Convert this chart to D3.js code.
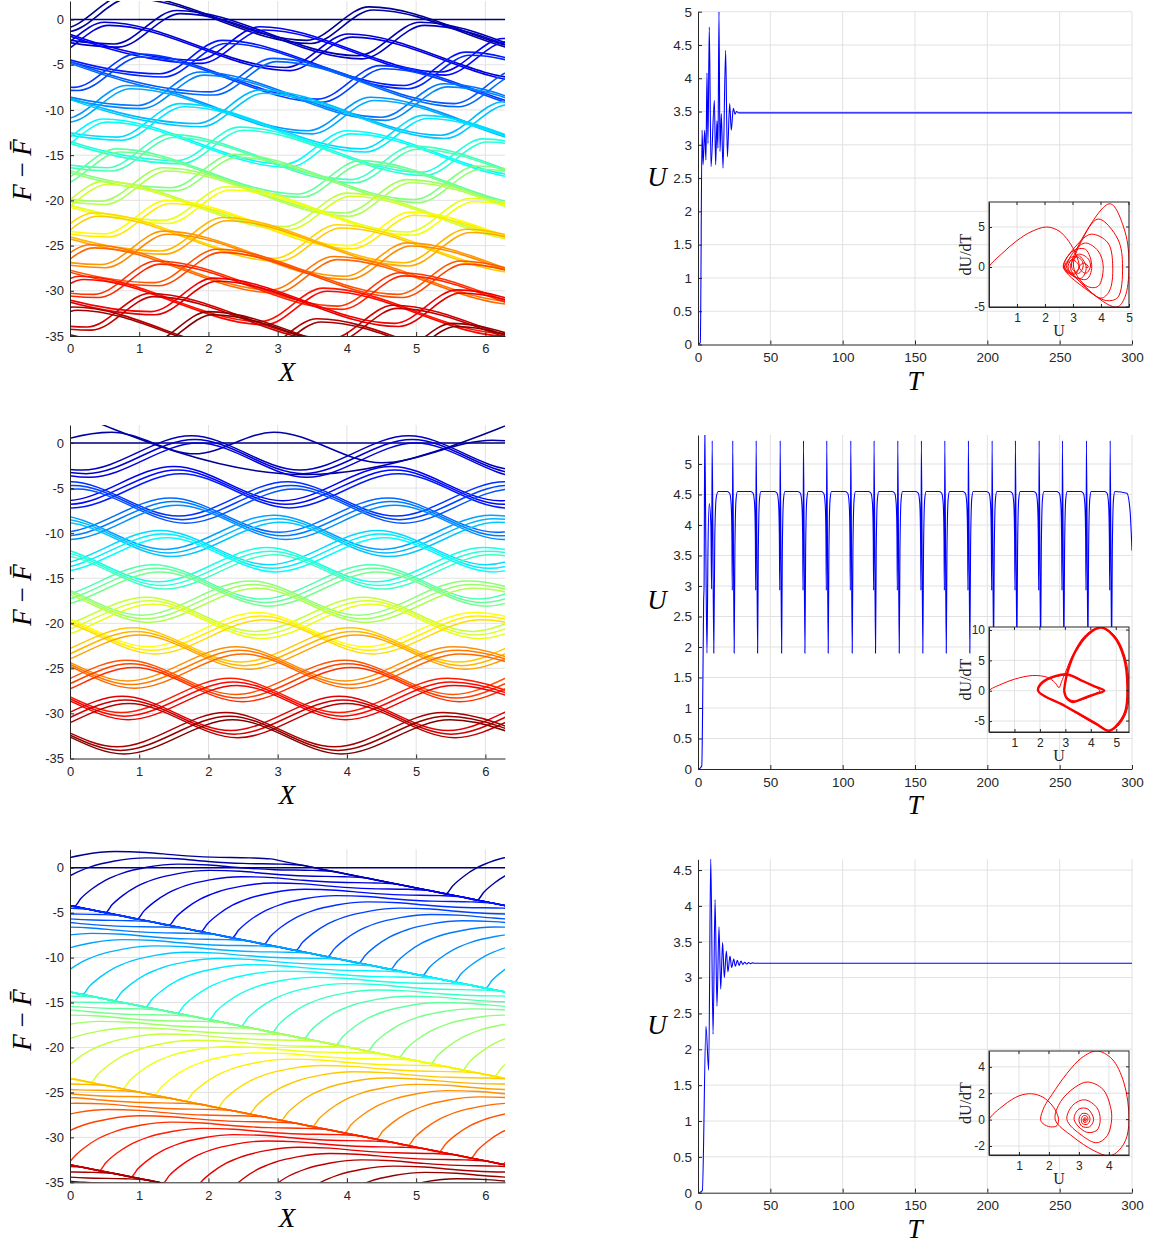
<!DOCTYPE html>
<html>
<head>
<meta charset="utf-8">
<script src="https://cdn.jsdelivr.net/npm/d3@7/dist/d3.min.js"></script>
<style>
  body { margin: 0; background: #fff; }
</style>
</head>
<body>
<svg id="fig" width="1152" height="1243"></svg>
<script>
var TAU = 2 * Math.PI;

// ---- left column, top: first crest (X, height) of every curve, shape of one curve ----
var aCrestX = [0.8, 1.54, 0.5, 2.74, 2.2, 0.96, 2.93, 1.88, 0.82, 2.74, 1.59, 0.48, 2.45, 1.44, 0.67, 2.36,
               1.35, 0.48, 2.26, 1.4, 0.34, 2.21, 1.35, 0.29, 2.12, 1.25, 0.14, 2.07, 1.15, 0.05, 2.0];
var aCrestY = [2.7, 1.0, -0.3, -0.8, -2.3, -3.8, -4.3, -5.8, -7.3, -7.8, -9.3, -11.0, -11.9, -12.7, -14.3, -14.9,
               -16.4, -17.9, -18.5, -20.0, -21.4, -21.9, -23.4, -24.9, -25.4, -26.7, -28.4, -28.6, -30.3, -31.8, -32.3];
var aShape = [[-3.52, 1.3], [-0.9, -3.7], [0, 0], [2.62, -5.0], [3.52, -1.3], [6.14, -6.3], [7.04, -2.6]];
var aCopies = [[0, 0], [0.06, -0.35]];

// ---- left column, middle ----
var bCrestX = [1.75, 1.5, 0.0, 1.45, -0.2, 1.3, -0.3, 1.2, -0.54, 1.1, -0.44, 0.9, -0.74, 0.82, -0.83, 0.75, -0.89];
var bCrestY = [0.8, -2.6, -4.3, -6.1, -8.0, -9.7, -11.6, -13.5, -15.3, -17.1, -18.8, -20.5, -22.6, -24.1, -26.1, -28.1, -29.9];
var bShape = [[-3.14, 0], [-1.57, -3.8], [0, 0], [1.57, -3.8], [3.14, 0], [4.71, -3.8], [6.28, 0], [7.85, -3.8]];
var bCopies = [[0, 0], [0.05, -0.4], [0.1, -0.8]];
var bBigWave = [[-0.3, 4.5], [3.4, -3.5], [7.1, 4.5]];
var bOddWave = [[-0.9, -2.0], [0.6, 1.2], [1.8, -1.2], [2.95, 1.2], [4.5, -2.2], [6.1, 0.3], [7.5, -2.0]];

// ---- left column, bottom: cusp position of every curve, one period of the profile ----
// (steep rise out of the cusp, rounded crest, flat top, straight descent along the shared slope)
var cCuspX = [5.43, 5.88, 0.06, 0.51, 0.97, 1.43, 1.89, 2.34, 2.80, 3.26, 3.72, 4.17, 4.63, 5.09, 5.55, 6.00,
              0.18, 0.64, 1.09, 1.55, 2.01, 2.47, 2.92, 3.38, 3.84, 4.30, 4.75, 5.21, 5.67, 6.13,
              0.30, 0.76, 1.22, 1.67, 2.13, 2.59, 3.05, 3.50, 3.96, 4.42, 4.88, 5.33, 5.79, 6.25,
              0.42, 0.88, 1.34, 1.80, 2.25, 2.71, 3.17, 3.63, 4.08];
var cCuspY = [-2.9, -3.6, -4.3, -5.0, -5.7, -6.4, -7.1, -7.8, -8.5, -9.2, -9.9, -10.6, -11.3, -12.0, -12.7, -13.4,
              -14.1, -14.8, -15.5, -16.2, -16.9, -17.6, -18.3, -19.0, -19.7, -20.4, -21.1, -21.8, -22.5, -23.2,
              -23.9, -24.6, -25.3, -26.0, -26.7, -27.4, -28.1, -28.8, -29.5, -30.2, -30.9, -31.6, -32.3, -33.0,
              -33.7, -34.4, -35.1, -35.8, -36.5, -37.2, -37.9, -38.6, -39.3];
var cShape = [[0, 0], [0.1, 0.9], [0.25, 1.9], [0.45, 2.9], [0.7, 3.7], [1.05, 4.35], [1.5, 4.7], [1.95, 4.6],
              [2.4, 4.3], [2.9, 4.08], [3.45, 4.0], [3.75, 3.88], [4.0, 3.49], [4.8, 2.27], [5.6, 1.05], [6.1, 0.28]];

// ---- right column: U(T) ----
var uTop = [[0, 0.17], [0.25, 0], [1.6, 0.03], [2.8, 3.22], [3.5, 2.7], [4.6, 3.22], [5.5, 2.77], [6.2, 4.08],
            [6.9, 3.02], [7.8, 4.77], [9, 2.67], [11.3, 3.67], [12.2, 2.7], [13.1, 3.36], [13.8, 2.95], [14.5, 5.0],
            [15.2, 2.9], [16.1, 3.47], [17.3, 2.65], [19.1, 4.42], [20.3, 2.82], [21.9, 3.62], [23, 3.22], [24.4, 3.55],
            [25.6, 3.46], [26.6, 3.5], [28, 3.48], [300, 3.48]];
var uMidStart = [[0, 0.17], [0.25, 0], [2.6, 0.05], [3.4, 1.5], [3.9, 2.75], [4.2, 3.0], [4.7, 5.6], [5.3, 4.0],
                 [6.2, 1.9], [6.9, 3.6], [7.8, 4.35], [8.9, 4.0], [9.4, 2.95], [9.8, 5.38], [10.9, 1.9], [11.6, 3.8],
                 [12.6, 4.45], [14, 4.55]];
var dipTimes = [23.7, 39.9, 56.5, 72.6, 88.7, 105.3, 121.4, 137.8, 154.1, 170.3, 186.6, 203.0, 219.1, 235.5, 251.6, 268.2, 284.6];
var dipShape = [[-3.5, 4.55], [-1.8, 4.52], [-0.8, 4.35], [-0.25, 3.8], [0, 2.93], [0.3, 5.38], [1.3, 1.9], [1.8, 3.6], [2.6, 4.42], [3.6, 4.55]];
var uMidEnd = [[296.5, 4.52], [298.6, 4.25], [300, 3.58]];
var uBot = [[0, 0.17], [0.25, 0], [3, 0.03], [5.5, 2.32], [7.4, 1.71], [8.8, 4.67], [10.4, 2.21], [11.8, 4.09],
            [13.1, 2.6], [14.5, 3.71], [15.7, 2.84], [17, 3.49], [18.2, 3.0], [19.6, 3.37], [20.7, 3.08], [22.1, 3.3],
            [23.3, 3.14], [24.7, 3.26], [25.8, 3.16], [27.2, 3.24], [28.4, 3.17], [29.7, 3.23], [31, 3.185], [32.3, 3.215],
            [33.6, 3.19], [35, 3.21], [36.3, 3.195], [37.6, 3.205], [39, 3.2], [300, 3.2]];

// ---- insets: (U, dU/dT) ----
var phaseTop = [[0, -0.6], [0, 0], [0.5, 1.8], [1.0, 3.3], [1.5, 4.4], [2.05, 5.0], [2.5, 4.5], [2.85, 3.2], [3.1, 1.6], [3.22, 0],
  [3.05, -0.9], [2.7, 0], [3.0, 0.9], [3.22, 0], [3.0, -0.8], [2.77, 0],
  [3.1, 2.2], [3.45, 3.0], [3.9, 2.0], [4.08, 0], [3.9, -2.4], [3.5, -2.4], [3.02, 0],
  [3.3, 3.2], [3.9, 6.0], [4.6, 3.5], [4.77, 0], [4.6, -3.8], [4.2, -4.2], [3.4, -2.6], [2.67, 0],
  [3.0, 2.0], [3.45, 2.2], [3.67, 0], [3.5, -1.5], [3.1, -1.3], [2.7, 0],
  [3.0, 1.3], [3.3, 0.9], [3.36, 0], [3.2, -0.8], [2.95, 0],
  [3.5, 4.6], [4.33, 7.9], [4.85, 4.5], [5.0, 0], [4.85, -3.8], [4.57, -5.0], [3.8, -3.6], [2.9, 0],
  [3.2, 1.4], [3.47, 0], [3.3, -1.4], [2.9, -0.9], [2.65, 0],
  [3.1, 2.6], [3.65, 4.1], [4.25, 3.0], [4.42, 0], [4.3, -3.0], [4.0, -3.9], [3.4, -2.3], [2.82, 0],
  [3.2, 1.6], [3.55, 1.0], [3.62, 0], [3.45, -0.8], [3.22, 0], [3.4, 0.5], [3.55, 0], [3.5, -0.1], [3.46, 0], [3.48, 0]];
var phaseMidStart = [[0, -0.5], [0, 0], [0.5, 1.1], [1.0, 1.9], [1.7, 2.5], [2.3, 2.2], [2.6, 1.3], [2.75, 0.5], [2.85, 1.5],
  [3.0, 3.0], [3.3, 6.0], [3.8, 9.2], [4.4, 10.5], [4.95, 9.0], [5.35, 5.5], [5.5, 0.5], [5.4, -3.5], [5.05, -5.9],
  [4.7, -6.6], [4.2, -5.6], [3.0, -2.6], [1.93, 0], [2.2, 1.5], [2.7, 2.4], [3.1, 2.5], [3.7, 1.5], [4.35, 0],
  [4.0, -0.9], [3.4, -1.7], [3.05, -1.1], [2.95, 0]];
var phaseMidCycle = [[2.95, 0], [3.0, 1.5], [3.1, 3.3], [3.4, 6.5], [3.9, 9.3], [4.4, 10.4], [4.9, 9.0], [5.3, 5.5],
  [5.44, 0.5], [5.35, -3.5], [5.0, -5.8], [4.7, -6.6], [4.2, -5.4], [3.0, -2.55], [1.93, 0], [2.1, 1.4], [2.6, 2.4],
  [3.1, 2.7], [3.6, 1.76], [4.1, 0.81], [4.53, 0], [4.2, -0.5], [3.7, -1.25], [3.3, -1.85], [3.05, -1.2], [2.95, 0]];
var phaseBot = [[0, -0.5], [0, 0], [0.5, 1.1], [1.0, 1.8], [1.42, 1.96], [1.8, 1.7], [2.1, 1.1], [2.28, 0.4], [2.32, 0],
  [2.27, -0.45], [2.05, -0.55], [1.8, -0.3], [1.72, 0],
  [1.85, 1.0], [2.1, 1.9], [2.6, 3.5], [3.1, 4.7], [3.6, 5.2], [4.1, 4.6], [4.5, 2.8], [4.67, 0],
  [4.55, -1.6], [4.25, -2.5], [4.0, -2.75], [3.5, -2.35], [2.8, -1.3], [2.21, 0],
  [2.4, 1.4], [2.9, 2.5], [3.3, 2.85], [3.8, 2.3], [4.05, 1.0], [4.09, 0],
  [3.95, -1.2], [3.6, -1.75], [3.1, -1.2], [2.6, 0], [2.8, 1.1], [3.2, 1.5], [3.6, 0.9], [3.71, 0],
  [3.6, -0.8], [3.25, -0.95], [2.84, 0], [3.0, 0.8], [3.3, 0.8], [3.49, 0], [3.35, -0.55], [3.1, -0.5], [3.0, 0],
  [3.1, 0.45], [3.3, 0.4], [3.37, 0], [3.28, -0.35], [3.12, -0.3], [3.08, 0], [3.15, 0.3], [3.27, 0.25], [3.3, 0],
  [3.24, -0.2], [3.16, -0.18], [3.14, 0], [3.2, 0.15], [3.26, 0], [3.2, -0.1], [3.16, 0], [3.2, 0.07], [3.24, 0],
  [3.2, -0.05], [3.18, 0], [3.2, 0]];

// ---- ticks ----
var xTicksF = [0, 1, 2, 3, 4, 5, 6];
var yTicksF = [-35, -30, -25, -20, -15, -10, -5, 0];
var tTicks = [0, 50, 100, 150, 200, 250, 300];

var svg = d3.select("#fig");
var gridColor = "#e2e2e2", axisColor = "#262626";
var sans = "'Liberation Sans', Arial, Helvetica, sans-serif";
var serif = "'Liberation Serif', 'Times New Roman', serif";

// MATLAB jet colormap
function jet(t) {
  var c = function(v) { return Math.max(0, Math.min(1, v)); };
  return d3.rgb(255 * c(1.5 - Math.abs(4 * t - 3)), 255 * c(1.5 - Math.abs(4 * t - 2)), 255 * c(1.5 - Math.abs(4 * t - 1))).toString();
}

function shift(shape, cx, cy) {
  return shape.map(function(p) { return [cx + p[0], cy + p[1]]; });
}

function styleAxis(g, size) {
  g.attr("font-size", size).attr("font-family", sans);
  g.select(".domain").attr("stroke", axisColor);
  g.selectAll(".tick line").attr("stroke", axisColor);
  g.selectAll(".tick text").attr("fill", axisColor);
}

function grid(g, x, y, xt, yt) {
  g.append("g").selectAll("line").data(xt).join("line")
    .attr("x1", function(d) { return x(d); }).attr("x2", function(d) { return x(d); })
    .attr("y1", y.range()[0]).attr("y2", y.range()[1])
    .attr("stroke", gridColor).attr("stroke-width", 1);
  g.append("g").selectAll("line").data(yt).join("line")
    .attr("y1", function(d) { return y(d); }).attr("y2", function(d) { return y(d); })
    .attr("x1", x.range()[0]).attr("x2", x.range()[1])
    .attr("stroke", gridColor).attr("stroke-width", 1);
}

// ---- build the curve lists ----
var curvesA = [[[0, 0], [TAU, 0]]];
aCrestX.forEach(function(cx, i) {
  aCopies.forEach(function(c) { curvesA.push(shift(aShape, cx + c[0], aCrestY[i] + c[1])); });
});

var curvesB = [[[0, 0], [TAU, 0]], bBigWave, bOddWave];
bCrestX.forEach(function(cx, i) {
  bCopies.forEach(function(c) { curvesB.push(shift(bShape, cx + c[0], bCrestY[i] + c[1])); });
});

// profile is 2*pi periodic: lay one period down three times around the cusp
var curvesC = [[[0, 0], [TAU, 0]]];
cCuspX.forEach(function(cx, i) {
  var pts = [];
  [-1, 0, 1].forEach(function(k) { pts = pts.concat(shift(cShape, cx + k * TAU, cCuspY[i])); });
  pts.push([cx + 2 * TAU, cCuspY[i]]);
  curvesC.push(pts);
});

var uMid = uMidStart.slice();
dipTimes.forEach(function(t) {
  dipShape.forEach(function(p) { uMid.push([t + p[0], p[1]]); });
});
uMid = uMid.concat(uMidEnd);

// ---- left panels ----
function leftPanel(p) {
  var x = d3.scaleLinear().domain([0, TAU]).range([70, 505]);
  var y = d3.scaleLinear().domain([-35, p.yTop]).range([p.bottom, p.top]);
  var g = svg.append("g");
  grid(g, x, y, [1, 2, 3, 4, 5, 6], [-30, -25, -20, -15, -10, -5, 0]);

  svg.append("clipPath").attr("id", p.id).append("rect")
    .attr("x", 70).attr("y", p.top).attr("width", 435).attr("height", p.bottom - p.top);

  var line = d3.line().x(function(d) { return x(d[0]); }).y(function(d) { return y(d[1]); }).curve(d3.curveMonotoneX);
  var n = p.curves.length;
  g.append("g").attr("clip-path", "url(#" + p.id + ")")
    .selectAll("path").data(p.curves).join("path")
    .attr("d", line).attr("fill", "none")
    .attr("stroke", function(d, i) { return jet(i / (n - 1)); })
    .attr("stroke-width", p.lw);

  g.append("g").attr("transform", "translate(0," + p.bottom + ")")
    .call(d3.axisBottom(x).tickValues(xTicksF).tickSize(-4).tickSizeOuter(0).tickPadding(8).tickFormat(function(d) { return String(d); }))
    .call(styleAxis, 13);
  g.append("g").attr("transform", "translate(70,0)")
    .call(d3.axisLeft(y).tickValues(yTicksF).tickSize(-4).tickSizeOuter(0).tickPadding(6).tickFormat(function(d) { return String(d); }))
    .call(styleAxis, 13);

  svg.append("text").attr("x", 287).attr("y", p.bottom + 45).attr("text-anchor", "middle")
    .attr("font-family", serif).attr("font-style", "italic").attr("font-size", 27).attr("fill", "#000").text("X");

  var lab = svg.append("text").attr("transform", "translate(31," + p.labelY + ") rotate(-90)")
    .attr("text-anchor", "middle").attr("font-family", serif).attr("font-size", 27).attr("fill", "#000");
  lab.append("tspan").attr("font-style", "italic").text("F");
  lab.append("tspan").text(" \u2212 ");
  lab.append("tspan").attr("font-style", "italic").text("F\u0304");
}

// ---- right panels ----
function rightPanel(p) {
  var x = d3.scaleLinear().domain([0, 300]).range([698, 1132]);
  var y = d3.scaleLinear().domain([0, p.yTop]).range([p.bottom, p.top]);
  var yt = d3.range(0, p.yTop + 0.001, 0.5);
  var g = svg.append("g");
  grid(g, x, y, [50, 100, 150, 200, 250, 300], yt.slice(1));

  svg.append("clipPath").attr("id", p.id).append("rect")
    .attr("x", 698).attr("y", p.top).attr("width", 434).attr("height", p.bottom - p.top);
  var line = d3.line().x(function(d) { return x(d[0]); }).y(function(d) { return y(d[1]); }).curve(d3.curveMonotoneX);
  g.append("path").attr("clip-path", "url(#" + p.id + ")").datum(p.data)
    .attr("d", line).attr("fill", "none").attr("stroke", "#0000ff").attr("stroke-width", 1.1);

  g.append("g").attr("transform", "translate(0," + p.bottom + ")")
    .call(d3.axisBottom(x).tickValues(tTicks).tickSize(-4).tickSizeOuter(0).tickPadding(8).tickFormat(function(d) { return String(d); }))
    .call(styleAxis, 13.5);
  g.append("g").attr("transform", "translate(698,0)")
    .call(d3.axisLeft(y).tickValues(yt).tickSize(-4).tickSizeOuter(0).tickPadding(6).tickFormat(function(d) { return String(d); }))
    .call(styleAxis, 13.5);

  svg.append("text").attr("x", 915).attr("y", p.bottom + 45).attr("text-anchor", "middle")
    .attr("font-family", serif).attr("font-style", "italic").attr("font-size", 27).attr("fill", "#000").text("T");
  svg.append("text").attr("x", 657).attr("y", p.labelY + 9).attr("text-anchor", "middle")
    .attr("font-family", serif).attr("font-style", "italic").attr("font-size", 27).attr("fill", "#000").text("U");

  inset(p.inset);
}

function inset(q) {
  var x = d3.scaleLinear().domain(q.uDom).range([989, 1129]);
  var y = d3.scaleLinear().domain(q.vDom).range([q.bottom, q.top]);
  var g = svg.append("g");
  g.append("rect").attr("x", 989).attr("y", q.top).attr("width", 140).attr("height", q.bottom - q.top).attr("fill", "#fff");
  grid(g, x, y, q.uTicks, q.vTicks);

  svg.append("clipPath").attr("id", q.id).append("rect")
    .attr("x", 989).attr("y", q.top).attr("width", 140).attr("height", q.bottom - q.top);
  var line = d3.line().x(function(d) { return x(d[0]); }).y(function(d) { return y(d[1]); }).curve(d3.curveCatmullRom.alpha(0.5));
  var pg = g.append("g").attr("clip-path", "url(#" + q.id + ")");
  q.paths.forEach(function(d) {
    pg.append("path").datum(d.pts).attr("d", line).attr("fill", "none").attr("stroke", "#ff0000").attr("stroke-width", d.lw);
  });

  g.append("g").attr("transform", "translate(0," + q.bottom + ")")
    .call(d3.axisBottom(x).tickValues(q.uTicks).tickSize(-3).tickSizeOuter(0).tickPadding(6).tickFormat(function(d) { return String(d); }))
    .call(styleAxis, 12);
  g.append("g").attr("transform", "translate(989,0)")
    .call(d3.axisLeft(y).tickValues(q.vTicks).tickSize(-3).tickSizeOuter(0).tickPadding(4).tickFormat(function(d) { return String(d); }))
    .call(styleAxis, 12);
  // mirrored ticks on top and right
  g.append("g").selectAll("line").data(q.uTicks).join("line")
    .attr("x1", function(d) { return x(d); }).attr("x2", function(d) { return x(d); })
    .attr("y1", q.top).attr("y2", q.top + 3).attr("stroke", axisColor);
  g.append("g").selectAll("line").data(q.vTicks).join("line")
    .attr("y1", function(d) { return y(d); }).attr("y2", function(d) { return y(d); })
    .attr("x1", 1129).attr("x2", 1126).attr("stroke", axisColor);
  g.append("rect").attr("x", 989).attr("y", q.top).attr("width", 140).attr("height", q.bottom - q.top)
    .attr("fill", "none").attr("stroke", axisColor).attr("stroke-width", 1);

  svg.append("text").attr("x", 1059).attr("y", q.bottom + 29).attr("text-anchor", "middle")
    .attr("font-family", serif).attr("font-size", 16).attr("fill", "#262626").text("U");
  svg.append("text").attr("transform", "translate(971," + (q.top + q.bottom) / 2 + ") rotate(-90)")
    .attr("text-anchor", "middle").attr("font-family", serif).attr("font-size", 16).attr("fill", "#262626").text("dU/dT");
}

leftPanel({ id: "ca", top: 1, bottom: 336, yTop: 2.05, curves: curvesA, lw: 1.6, labelY: 170 });
leftPanel({ id: "cb", top: 425, bottom: 758.5, yTop: 2.0, curves: curvesB, lw: 1.5, labelY: 595 });
leftPanel({ id: "cc", top: 849.3, bottom: 1182.3, yTop: 2.05, curves: curvesC, lw: 1.4, labelY: 1020 });

rightPanel({ id: "ra", top: 11.7, bottom: 344.5, yTop: 5, data: uTop, labelY: 177,
  inset: { id: "ia", top: 202, bottom: 307, uDom: [0, 5], vDom: [-5, 8.125], uTicks: [1, 2, 3, 4, 5], vTicks: [-5, 0, 5],
           paths: [{ pts: phaseTop, lw: 1 }] } });
rightPanel({ id: "rb", top: 435, bottom: 769, yTop: 5.475, data: uMid, labelY: 600,
  inset: { id: "ib", top: 627, bottom: 732, uDom: [0, 5.5], vDom: [-6.8, 10.5], uTicks: [1, 2, 3, 4, 5], vTicks: [-5, 0, 5, 10],
           paths: [{ pts: phaseMidStart, lw: 1 }, { pts: phaseMidCycle, lw: 2.4 }] } });
rightPanel({ id: "rc", top: 859.3, bottom: 1192.7, yTop: 4.65, data: uBot, labelY: 1025,
  inset: { id: "ic", top: 1051, bottom: 1155, uDom: [0, 4.67], vDom: [-2.68, 5.2], uTicks: [1, 2, 3, 4], vTicks: [-2, 0, 2, 4],
           paths: [{ pts: phaseBot, lw: 1 }] } });
</script>
</body>
</html>
